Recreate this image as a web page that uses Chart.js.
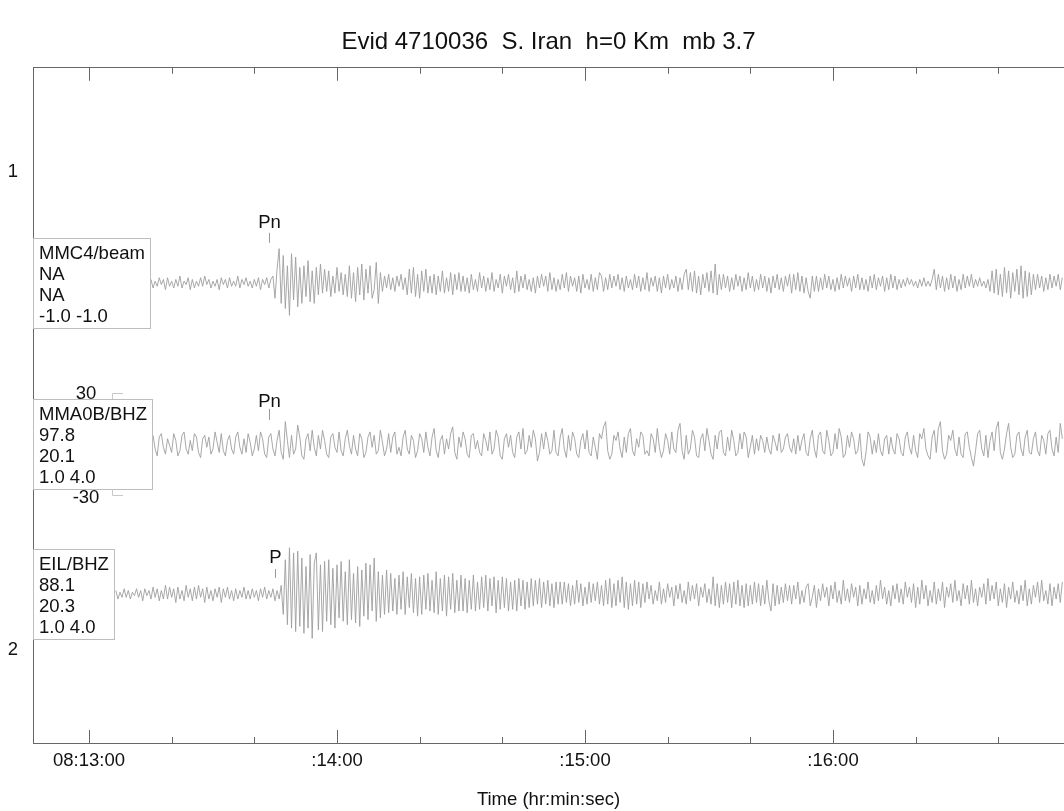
<!DOCTYPE html>
<html>
<head>
<meta charset="utf-8">
<title>Evid 4710036 S. Iran</title>
<script src="https://cdn.jsdelivr.net/npm/chart.js@4.4.1/dist/chart.umd.min.js"></script>
<style>
  html, body { margin: 0; padding: 0; background: #fff; overflow: hidden; }
  canvas { display: block; }
</style>
</head>
<body>
<canvas id="seis" width="1064" height="811"></canvas>
<script>
// --- data ---
const TITLE = "Evid 4710036  S. Iran  h=0 Km  mb 3.7";
const X_TITLE = "Time (hr:min:sec)";

// seconds after 08:13:00
const TICK_SECONDS = [0, 60, 120, 180];
const TICK_LABELS = ["08:13:00", ":14:00", ":15:00", ":16:00"];
const Y_TICKS = [1, 2];
const Y_TICK_LABELS = ["1", "2"];

const TRACE_NAMES = ["MMC4/beam", "MMA0B/BHZ", "EIL/BHZ"];
const TRACE_INFO = [
  ["NA", "NA", "-1.0 -1.0"],
  ["97.8", "20.1", "1.0 4.0"],
  ["88.1", "20.3", "1.0 4.0"],
];
const PICK_LABELS = ["Pn", "Pn", "P"];
const PICK_TIMES = [43.6, 43.6, 45.0];
const SCALE_BAR = [30, -30]; // counts, shown on trace 2

const SAMPLE_DT = 0.5;
const TRACE_START = [15.0, 15.5, 6.5];

// MMC4/beam, counts (every 0.5 s from 15.0 s)
const mmc4 = [
  2,-3,1,-2,3,-1,2,-4,3,-2, 1,-3,2,-2,4,-3,1,-1,3,-4, 2,-3,1,-2,3,-2,4,-1,2,-3,
  1,-2,2,-4,3,-1,2,-3,3,-2, 1,-2,4,-3,2,-1,3,-2,1,-3, 2,-2,3,-4,2,-1,3,-3,2,
  4,-9,8,20,-12,16,-15,10,-19,17,-10,15,-14,9,
  -12,10,-8,13,-11,7,-12,9,-7,11,
  -6,8,-5,7,-8,4,-6,9,-5,6,-7,5,
  -8,10,-9,6,-11,9,-7,11,-10,8,-6,10,-9,-4,12,-12,6,
  -5,4,-3,5,-4,3,-5,4,-2,5,-4,3,
  -7,8,-6,9,-8,5,-9,7,-5,8,-6,4,
  -6,5,-7,4,-5,7,-6,3,-5,6,-7,5,-4,6,-5,
  4,-5,3,-6,5,-4,2,-5,6,-3, 4,-5,3,-4,6,-5,2,-3,5,-6, 4,-2,5,-4,3,-6,7,-5,4,-3,
  5,-4,2,-5,3,-6,4,-3,5,-2, 4,-5,6,-4,3,-5,2,-4,5,-3, 6,-5,4,-2,3,-5,4,-6,5,-3,
  2,-4,5,-5,3,-4,6,
  4,-5,3,-4,5,-3,4,-2,5,-4,3,-5,4,-3,2,-4,5,-3,4,-5,
  3,-4,6,-5,3,-2,4,-5,3,-6,4,-3,5,-4,2,-3,4,-5,3,-4,
  5,8,-4,6,-5,7,-6,4,-7,5,-3,6,
  -5,7,-6,11,-7,5,
  -4,5,-3,4,-5,3,-4,5,-2,4, -5,3,-4,6,-3,4,-5,2,-4,5, -3,4,-5,3,-6,4,-3,5,-4,3, -5,4,-2,5,
  -6,5,-4,6,-5,4,-6,3,-5,-9,4,-5,
  4,-5,3,-4,5,-3,4,-4,2,-5, 3,-4,5,-3,4,-2,3,-5,4,-3, 5,-4,3,-4,2,-5,4,-3,5,-4, 3,-2,4,-5,3,-4,5,-3,4,-4,
  2,-3,2,-2,3,-1,2,-2,1,-3,2,-2,3,-2,1,-2,2,
  8,-4,5,-3,4,-5,3,-4,5,-3,4,-5,2,-4,5,-3,4,-2,5,
  -3,2,-2,3,-2,1,-3,2,
  -5,7,-6,8,-7,5,-8,9,-6,7,-9,6,-5,8,-7,10,-9,7,-8,6,-7,5,
  -4,5,-3,4,-5,3,-4,5,-3,4,-2,5,-4,3,
];

// MMA0B/BHZ, counts (every 0.5 s from 15.5 s)
const mma0b = [
  5,-3,-7,4,6,-2,-6,3,-1,-5, 6,2,-7,-4,5,7,-3,-6,2,-4, 6,4,-5,-8,3,5,-2,4,-6,-3, 7,1,-5,6,-4,-7,2,5,-3,-6,
  4,7,-2,-6,3,-5,6,1,-7,-3, 5,-4,7,3,-6,-8,4,6,-3,-7, 2,8,-5,-9,13,2,-8,5,-6,-3, 11,4,-7,-9,3,6,-4,8,-2,-7,
  5,-3,8,2,-6,-8,4,6,-2,-5, 7,-4,-7,3,8,-1,-6,5,-3,-7, 6,3,-8,-5,4,7,-2,5,-6,-4, 8,1,-7,-3,6,-5,4,7,-6,-2,
  -7,4,8,-3,-6,5,2,-8,-4,6, 3,-5,7,-2,-7,4,9,-4,-8,2, 5,-6,3,-3,6,10,-5,-9,4,-2, 7,3,-6,-8,5,6,-3,2,-5,-7,
  6,2,-4,7,-6,-3,8,4,-7,-9, 3,6,-2,5,-5,-8,4,7,-3,9, -6,-4,5,-2,8,3,-10,-5,6,-3, 7,2,-6,-4,8,-5,-7,4,9,-3,
  -8,5,-4,7,3,-6,-8,2,6,-3, 8,-5,-7,4,-2,-9,6,3,10,13, -4,-9,-6,5,2,7,-3,-8,4,-5, 6,9,-4,-7,3,-2,7,5,-6,-4,
  -7,6,3,-5,9,-2,-8,-4,6,2, -6,7,-3,-5,8,12,-4,-9,5,-6, -3,8,4,-7,-8,3,6,-4,9,2, -6,-9,5,-3,7,8,-5,-7,4,-4,
  8,2,-7,-5,6,-3,7,4,-8,-2, 5,-6,3,-4,5,2,-5,4,-3,-6, 5,1,-4,6,-5,-3,4,6,-2,-5, 3,-6,5,-4,2,6,-5,-7,3,8,
  -3,-8,5,7,-4,-6,8,2,-7,-5, 6,-3,9,4,-8,-6,5,-2,7,3, -6,-4,6,-9,-13,-5,7,4,-6,2, -5,6,-4,-7,3,5,-6,4,-3,-6,
  6,3,-5,-7,4,7,-2,-6,5,-4, -8,6,3,9,-3,-7,-9,4,8,-5, 9,13,-4,-9,-6,5,2,8,-3,-7, 4,-6,-8,6,7,-2,-8,-13,-4,6,
  8,-3,-7,5,-8,2,7,-4,9,13, -5,-9,-3,6,12,-2,-8,-6,5,7, -3,-7,4,8,-5,-6,3,7,-4,-7, 5,2,-6,6,8,-3,-7,4,-5,12, 3,
];

// EIL/BHZ, counts (every 0.5 s from 6.5 s)
const eil = [
  2,-3,1,-2,3,-2,2,-3,1,-1, 3,-2,2,-4,3,-1,2,-3,4,-2, 3,-4,2,-3,5,-3,4,-2,3,-5, 4,-3,2,-4,5,-2,3,-4,4,-3,
  5,-2,3,-5,4,-3,2,-4,3,-2, 4,-5,3,-2,4,-3,2,-4,3,-3, 2,-2,4,-3,2,-3,3,-2,2,-4, 3,-2,4,-3,2,-2,3,-4,2,-3,
  5,-12,20,-18,27,-20,24,-22,25,-19,
  21,-23,16,-20,23,-26,18,24,-21,17,-22,19,-16,20,
  -18,15,-20,17,-14,19,-16,13,-18,20,-15,12,-17,16,-19,14,-13,18,-15,17,
  -10,21,-16,13,-14,11,-12,14,
  -11,12,-10,9,-12,11,-9,13,-12,10, -8,12,-11,9,-13,10,-12,11,-9,12, -10,8,-11,13,-12,9,-10,11,-13,10, -9,12,-11,8,-10,11,
  -10,9,-11,8,-9,11,-10,7,-9,10, -8,11,-10,9,-7,10,-11,8,-9,10, -8,9,-10,7,-9,8,-10,9,-7,8, -9,7,-8,9,-7,8,-6,9,-8,7,
  -6,8,-7,6,-8,7,-6,7,
  -6,7,-5,6,-7,5,-6,8,-5,6,-7,4,-6,7,-5,6,-4,7,-6,5,
  -7,8,-6,9,-8,6,-7,8,-5,10,-8,7,-9,6,-7,8,-6,7,-8,6,
  -5,7,-3,5,-6,2,-4,7,-6,3, -5,6,-2,4,-7,5,-3,6,-5,2, -6,7,-4,5,-3,6,-7,4,-2,6, -5,3,
  -6,10,-7,6,-8,5,-6,7,-5,6, -8,7,-6,8,-7,5,-8,6,-7,5, -6,7,-5,6,-7,5,-6,8,-4,-10, 6,-7,5,-6,4,-5,6,-4,5,-6,
  5,-3,7,-6,2,-5,4,6,-7,-2, 5,-8,3,-4,6,-2,4,-7,5,-3, 7,-5,2,-6,8,-4,3,-5,6,-2,
  4,-7,5,-6,3,-3,7,-5,2,-6, 5,-4,8,-3,4,-6,2,-7,5,-3, 6,-5,3,-6,7,-2,4,-5,6,-8,
  4,-6,8,-3,5,-7,2,-5,7,-6, 3,-4,7,-8,4,-2,6,-5,8,-4, 2,-7,6,-3,5,-6,8,-5,3,-7, 4,-2,6,-6,9,-4,5,-3,7,-7,
  3,-5,6,-8,4,-3,7,-5,2,-6, 5,-4,8,-7,3,-6,5,-2,7,-5, 8,-4,2,-6,6,-7,4,-3,6,-5, 7,
];

const TRACES = [mmc4, mma0b, eil];

// --- layout / style ---
const X_MIN = -13.55, X_MAX = 235.9;
const Y_MIN = 0.7824, Y_MAX = 2.1946;          // axis is reversed (1 above 2)
const TRACE_BASE = [1.2322, 1.569, 1.8828];   // trace zero lines on the y axis
const GAIN = 0.003577;                        // y units per count
const FONT = "'Liberation Sans', Arial, Helvetica, sans-serif";
const FS = 18.5;
const FRAME = "#666";
const INK = "#111";
const WAVE = "#9e9e9e";

Chart.defaults.font.family = FONT;
Chart.defaults.font.size = FS;
Chart.defaults.color = INK;

// pick label / tick offsets above each trace line (px)
const PICK_LABEL_DY = [-60, -42, -36];
const PICK_TICK = [[-50, -40], [-35, -24], [-25, -16]];

const overlay = {
  id: "overlay",
  afterDatasetsDraw(chart) {
    const { ctx, chartArea: area, scales } = chart;
    const x = scales.x, y = scales.y;
    ctx.save();

    // inward ticks on top and bottom
    ctx.strokeStyle = FRAME;
    ctx.lineWidth = 1;
    ctx.beginPath();
    for (let s = 0; s <= X_MAX; s += 20) {
      const px = Math.round(x.getPixelForValue(s)) + 0.5;
      const len = s % 60 === 0 ? 13 : 6;
      ctx.moveTo(px, area.bottom);
      ctx.lineTo(px, area.bottom - len);
      ctx.moveTo(px, area.top);
      ctx.lineTo(px, area.top + len);
    }
    ctx.stroke();

    // amplitude bar on trace 2
    const yTop = Math.round(y.getPixelForValue(TRACE_BASE[1] - SCALE_BAR[0] * GAIN)) + 0.5;
    const yBot = Math.round(y.getPixelForValue(TRACE_BASE[1] - SCALE_BAR[1] * GAIN)) + 0.5;
    ctx.strokeStyle = "#c8c8c8";
    ctx.beginPath();
    ctx.moveTo(123, yTop); ctx.lineTo(112.5, yTop); ctx.lineTo(112.5, yBot); ctx.lineTo(123, yBot);
    ctx.stroke();
    ctx.fillStyle = INK;
    ctx.font = FS + "px " + FONT;
    ctx.textAlign = "center";
    ctx.textBaseline = "middle";
    ctx.fillText(String(SCALE_BAR[0]), 86, yTop);
    ctx.fillText(String(SCALE_BAR[1]), 86, yBot + 2);

    // station boxes and picks
    TRACES.forEach((_, i) => {
      const base = y.getPixelForValue(TRACE_BASE[i]);
      const lines = [TRACE_NAMES[i]].concat(TRACE_INFO[i]);
      ctx.font = FS + "px " + FONT;
      const w = Math.max(...lines.map((l) => ctx.measureText(l).width));
      const top = Math.round(base - 45) + 0.5;
      const left = area.left + 0.5;
      ctx.fillStyle = "#fff";
      ctx.fillRect(left, top, Math.round(w + 11), 90);
      ctx.strokeStyle = "#bdbdbd";
      ctx.strokeRect(left, top, Math.round(w + 11), 90);
      ctx.fillStyle = INK;
      ctx.textAlign = "left";
      ctx.textBaseline = "middle";
      lines.forEach((l, k) => ctx.fillText(l, area.left + 6, top + 15 + k * 21));

      const px = Math.round(x.getPixelForValue(PICK_TIMES[i])) + 0.5;
      ctx.strokeStyle = "#999";
      ctx.beginPath();
      ctx.moveTo(px, base + PICK_TICK[i][0]);
      ctx.lineTo(px, base + PICK_TICK[i][1]);
      ctx.stroke();
      ctx.textAlign = "center";
      ctx.fillText(PICK_LABELS[i], px, base + PICK_LABEL_DY[i]);
    });

    ctx.restore();
  },
};

const datasets = TRACES.map((vals, i) => ({
  label: TRACE_NAMES[i],
  data: vals.map((v, k) => ({ x: TRACE_START[i] + k * SAMPLE_DT, y: TRACE_BASE[i] - v * GAIN })),
  borderColor: WAVE,
  borderWidth: 0.9,
  borderJoinStyle: "bevel",
  pointRadius: 0,
  tension: 0,
  fill: false,
  xAxisID: "x",
  yAxisID: "y",
}));

new Chart(document.getElementById("seis"), {
  type: "line",
  data: { datasets },
  options: {
    responsive: false,
    animation: false,
    events: [],
    layout: { padding: 0 },
    plugins: {
      legend: { display: false },
      tooltip: { enabled: false },
      title: {
        display: true,
        text: TITLE,
        fullSize: false,
        color: INK,
        font: { size: 24, weight: "normal" },
        padding: { top: 28, bottom: 11 },
      },
    },
    scales: {
      x: {
        type: "linear",
        position: "bottom",
        min: X_MIN,
        max: X_MAX,
        grid: { display: false, drawTicks: false },
        border: { display: true, color: FRAME, width: 1 },
        afterBuildTicks: (s) => { s.ticks = TICK_SECONDS.map((v) => ({ value: v })); },
        afterFit: (s) => { s.height = 68; },
        ticks: {
          autoSkip: false,
          maxRotation: 0,
          padding: 7,
          color: INK,
          callback: (v) => TICK_LABELS[TICK_SECONDS.indexOf(v)],
        },
        title: { display: true, text: X_TITLE, color: INK, font: { size: FS }, padding: { top: 0, bottom: 0 } },
      },
      xTop: {
        type: "linear",
        position: "top",
        min: X_MIN,
        max: X_MAX,
        grid: { display: false, drawTicks: false },
        border: { display: true, color: FRAME, width: 1 },
        ticks: { display: false },
        afterFit: (s) => { s.height = 0; },
      },
      y: {
        type: "linear",
        position: "left",
        reverse: true,
        min: Y_MIN,
        max: Y_MAX,
        grid: { display: false, drawTicks: false },
        border: { display: true, color: FRAME, width: 1 },
        afterBuildTicks: (s) => { s.ticks = Y_TICKS.map((v) => ({ value: v })); },
        afterFit: (s) => { s.width = 33; },
        ticks: {
          padding: 15,
          color: INK,
          callback: (v) => Y_TICK_LABELS[Y_TICKS.indexOf(v)],
        },
      },
    },
  },
  plugins: [overlay],
});
</script>
</body>
</html>
